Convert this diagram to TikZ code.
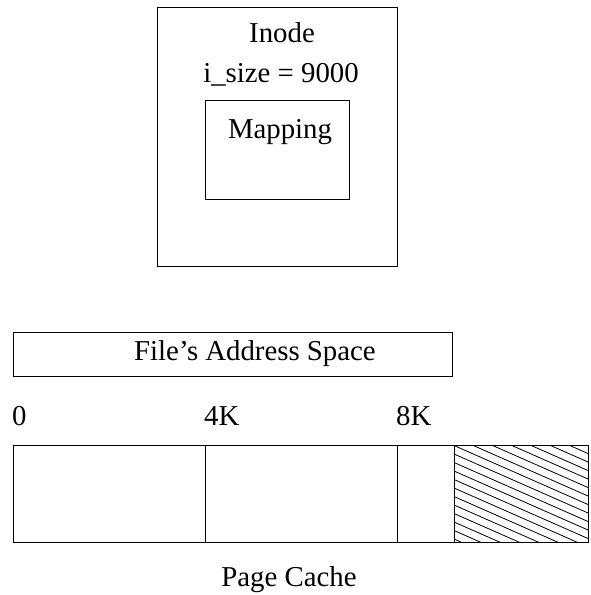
\documentclass[tikz,border=0pt]{standalone}
\usepackage{fontspec}
\setmainfont{Liberation Serif}
\begin{document}
\begin{tikzpicture}[x=1pt,y=-1pt,
  box/.style={draw=black,line width=1pt,inner sep=0pt},
  lbl/.style={inner sep=0pt,font=\fontsize{28.8}{34}\selectfont}]
\useasboundingbox (0,0) rectangle (591,595);
% Inode box
\node[box,minimum width=240pt,minimum height=259pt] (inode) at (277,136.5) {};
\node[box,minimum width=144pt,minimum height=99pt] (mapping) at (277,149.5) {};
\node[lbl,anchor=base] (inodet) at (282,42) {Inode};
\node[lbl,anchor=base] (isize) at (281,82) {i\_size = 9000};
\node[lbl,anchor=base] (mapt) at (280,138) {Mapping};
% File's address space
\node[box,minimum width=439pt,minimum height=44pt] (fas) at (232.5,354) {};
\node[lbl,anchor=base west] (fast) at (134,360) {File’s Address Space};
% offsets
\node[lbl,anchor=base west] (l0) at (12,425) {0};
\node[lbl,anchor=base west] (l4) at (204,425) {4K};
\node[lbl,anchor=base west] (l8) at (396,425) {8K};
% page cache
\node[box,minimum width=575pt,minimum height=97pt] (pc) at (300.5,493.5) {};
\coordinate (d1t) at (205,445); \coordinate (d1b) at (205,542);
\coordinate (d2t) at (397,445); \coordinate (d2b) at (397,542);
\coordinate (d3t) at (454,445); \coordinate (d3b) at (454,542);
\draw[line width=1pt] (d1t) -- (d1b);
\draw[line width=1pt] (d2t) -- (d2b);
\draw[line width=1pt] (d3t) -- (d3b);
\begin{scope}
  \clip (454,445) rectangle (588,542);
  \foreach \k in {0,...,21} {
    \draw[line width=0.8pt] (454,{386+\k*8.5}) -- ++(134,59);
  }
\end{scope}
\node[lbl,anchor=base] (pct) at (289,586) {Page Cache};
\end{tikzpicture}
\end{document}
